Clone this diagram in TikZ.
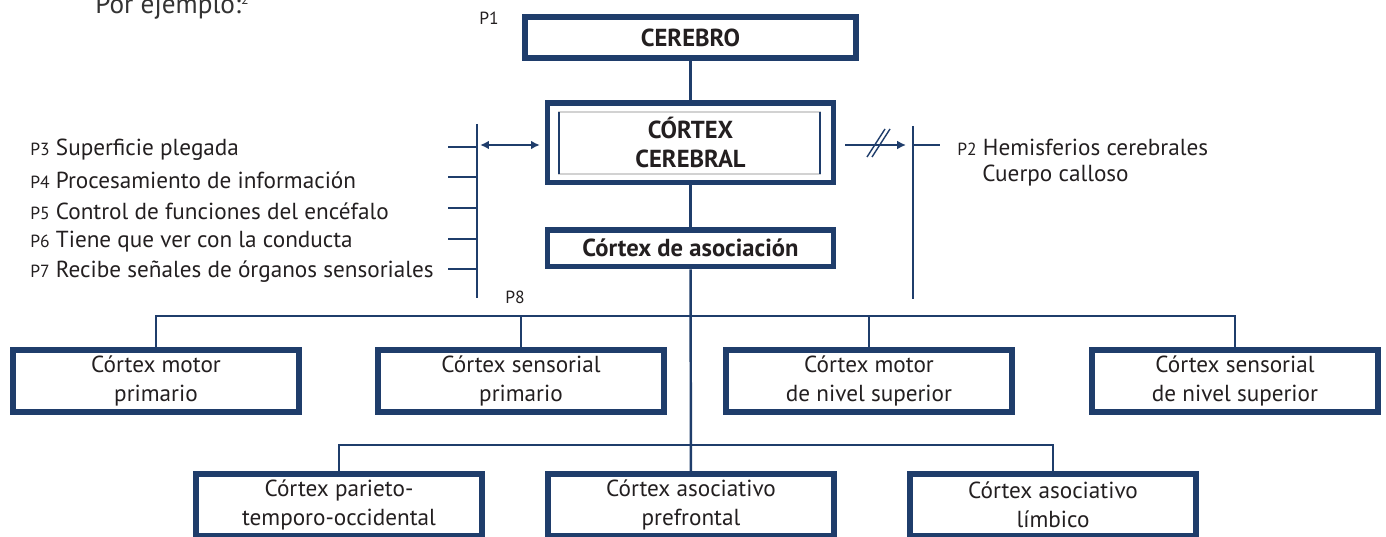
\documentclass[tikz,border=0pt]{standalone}
\usepackage{fontspec}
\setmainfont{PT Sans}
\usetikzlibrary{positioning, arrows.meta}
\definecolor{navy}{HTML}{1F3D6B}
\definecolor{txt}{HTML}{231F20}

\begin{document}
\begin{tikzpicture}[
        x=0.02cm, y=-0.02cm,
        every node/.style={font=\fontsize{13.2}{16.2}\selectfont, text=txt},
        box/.style={rectangle, draw=navy, line width=3.2pt, fill=white, align=center, minimum width=5.72cm, minimum height=1.25cm, inner sep=1pt},
        headbox/.style={box, font=\fontsize{14}{16.5}\selectfont\bfseries},
        edge/.style={draw=navy, line width=1.4pt},
        tip/.style={-{Latex[length=5pt,width=5pt]}},
        item/.style={anchor=west, inner sep=0pt, font=\fontsize{13.2}{16}\selectfont},
        tag/.style={inner sep=0pt, font=\fontsize{10}{11}\selectfont}
    ]
        \useasboundingbox (0,0) rectangle (1386,537);
        % Heading
        \node[anchor=base west, inner sep=0pt, font=\fontsize{15.5}{18}\selectfont, text=black!80] (ej) at (95,14) {Por ejemplo:\textsuperscript{\fontsize{8}{9}\selectfont 2}};
        % Main column
        \node[headbox, minimum width=6.62cm, minimum height=0.83cm] (cer) at (690.5,37.5) {CEREBRO};
        \node[headbox, minimum height=1.59cm, below=0.78cm of cer] (ctx) {CÓRTEX\\CEREBRAL};
        \draw[gray!35, line width=1pt] (559,112) rectangle (820,174);
        \draw[navy, line width=0.8pt] (559,112) -- (559,174) (820,112) -- (820,174);
        \node[headbox, minimum height=0.73cm, below=0.84cm of ctx] (asoc) {Córtex de asociación};
        \node[tag] (p1) at (489,18) {P1};
        \node[tag] (p8) at (515,297) {P8};
        % First row
        \node[box] (m1) at (156,381) {Córtex motor\\primario};
        \node[box] (m2) at (521,381) {Córtex sensorial\\primario};
        \node[box] (m3) at (869,381) {Córtex motor\\de nivel superior};
        \node[box] (m4) at (1235,381) {Córtex sensorial\\de nivel superior};
        % Second row
        \node[box] (a1) at (339,505) {Córtex parieto-\\temporo-occidental};
        \node[box] (a2) at (691,505) {Córtex asociativo\\prefrontal};
        \node[box] (a3) at (1053,505) {Córtex asociativo\\límbico};
        % Left list
        \foreach \y/\p/\t [count=\i from 3] in {147/P3/Superficie plegada, 177/P4/Procesamiento de información, 208/P5/Control de funciones del encéfalo, 239/P6/Tiene que ver con la conducta, 269/P7/Recibe señales de órganos sensoriales} {
            \node[item] (l\i) at (30,\y+3) {{\fontsize{10}{11}\selectfont \p} \t};
            \draw[edge] (448,\y) -- (477,\y);
        }
        \coordinate (ltop) at (477,124);
        \coordinate (lbot) at (477,298);
        \coordinate (ljoin) at (477,145);
        \draw[edge] (ltop) -- (lbot);
        \draw[edge, {Latex[length=5pt,width=5pt]}-{Latex[length=5pt,width=5pt]}, shorten <=1.8pt, shorten >=2.8pt] (ljoin) -- (ljoin -| ctx.west);
        % Right list
        \coordinate (rtop) at (913,126);
        \coordinate (rbot) at (913,299);
        \coordinate (rjoin) at (913,145);
        \draw[edge] (rtop) -- (rbot);
        \draw[edge] (rjoin) -- ++(27,0);
        \draw[edge, tip, shorten <=5pt, shorten >=4pt] (rjoin -| ctx.east) -- (rjoin);
        \draw[edge, line width=0.8pt] (867,157) -- (885,129) (872,157) -- (890,129);
        \node[item] (p2) at (957,147) {{\fontsize{10}{11}\selectfont P2} Hemisferios cerebrales};
        \node[item] (cc) at (982,176) {Cuerpo calloso};
        % Edges
        \coordinate (bar1) at (690,316);
        \coordinate (bar2) at (690,445);
        \draw[edge] (cer) -- (ctx);
        \draw[edge] (ctx) -- (asoc);
        \draw[edge] (asoc) -- (a2);
        \draw[edge] (m1.north) |- (bar1) -| (m4.north);
        \foreach \n in {m2, m3} \draw[edge] (\n.north) -- (\n.north |- bar1);
        \draw[edge] (a1.north) |- (bar2) -| (a3.north);
    \end{tikzpicture}
\end{document}
